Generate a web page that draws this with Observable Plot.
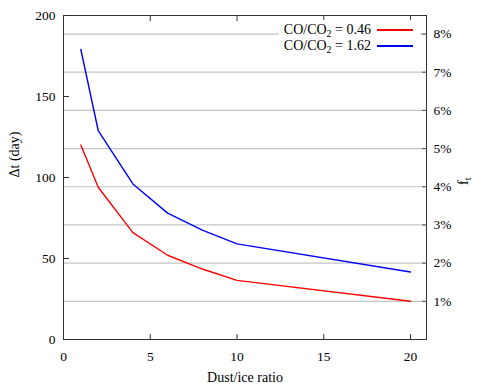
<!DOCTYPE html>
<html><head><meta charset="utf-8">
<script src="https://cdn.jsdelivr.net/npm/d3@7"></script>
<script src="https://cdn.jsdelivr.net/npm/@observablehq/plot@0.6"></script>
<style>
body{margin:0;background:#fff;}
#wrap{position:relative;width:491px;height:392px;font-family:"Liberation Serif",serif;color:#000;}
#wrap svg{position:absolute;left:0;top:0;}
#wrap svg text{font-family:"Liberation Serif",serif;}
.lgbox{position:absolute;left:279px;top:20px;width:141px;height:34px;background:#fff;}
.lgtext{position:absolute;right:120px;font-size:14px;height:16px;line-height:16px;white-space:nowrap;}
.lgtext sub{font-size:10px;vertical-align:baseline;position:relative;top:3px;line-height:0;}
.lgline{position:absolute;left:377px;width:36px;height:1.5px;}
</style></head><body><div id="wrap"></div>
<script>
const dustIce = [1, 2, 4, 6, 8, 10, 20];
const dtLow = [120, 94, 66, 52, 43.5, 36.5, 23.6];
const dtHigh = [179, 129, 96, 78, 67.5, 59, 41.7];
const seriesLabels = ["0.46", "1.62"];
const seriesColors = ["#ff0000", "#0000ff"];
const xTicks = [0, 5, 10, 15, 20];
const yTicks = [0, 50, 100, 150, 200];
const ftTicks = [1, 2, 3, 4, 5, 6, 7, 8];
const daysPerPercent = 23.57;

const rows = dustIce.map((x, i) => ({x, low: dtLow[i], high: dtHigh[i]}));
const serif = "Liberation Serif";

const svg = Plot.plot({
  width: 491, height: 392,
  marginLeft: 63, marginRight: 65, marginTop: 15, marginBottom: 53,
  style: {fontFamily: serif, fontSize: "13.5px", color: "#000", background: "#fff"},
  x: {domain: [0, 20.92]},
  y: {domain: [0, 200]},
  marks: [
    Plot.ruleY(ftTicks, {y: f => f * daysPerPercent, stroke: "#c4c4c4", strokeWidth: 1.2}),
    Plot.line(rows, {x: "x", y: "low", stroke: seriesColors[0], strokeWidth: 1.4}),
    Plot.line(rows, {x: "x", y: "high", stroke: seriesColors[1], strokeWidth: 1.4}),
    Plot.frame({stroke: "#333", strokeWidth: 1}),
    Plot.axisX({anchor: "bottom", ticks: xTicks, tickSize: 0, tickPadding: 12, fontFamily: serif, label: null}),
    Plot.axisX({anchor: "bottom", ticks: xTicks, tickSize: 5, dy: -5, fill: "none", stroke: "#333", label: null}),
    Plot.axisX({anchor: "top", ticks: xTicks, tickSize: 5, dy: 5, fill: "none", stroke: "#333", label: null}),
    Plot.axisY({anchor: "left", ticks: yTicks, tickSize: 0, tickPadding: 8, fontFamily: serif, label: null}),
    Plot.axisY({anchor: "left", ticks: yTicks, tickSize: 6, dx: 6, fill: "none", stroke: "#333", label: null}),
    Plot.axisY({anchor: "right", ticks: ftTicks.map(f => f * daysPerPercent), tickFormat: d => Math.round(d / daysPerPercent) + "%", tickSize: 0, tickPadding: 7, fontFamily: serif, label: null}),
    Plot.axisY({anchor: "right", ticks: ftTicks.map(f => f * daysPerPercent), tickSize: 5, dx: -5, fill: "none", stroke: "#555", label: null}),
    Plot.text(["Δt (day)"], {text: d => d, frameAnchor: "left", rotate: -90, dx: -49, fontSize: 14, fontFamily: serif}),
    Plot.text(["Dust/ice ratio"], {text: d => d, frameAnchor: "bottom", dy: 42, fontSize: 14, fontFamily: serif}),
    Plot.text(["ft"], {text: d => d, frameAnchor: "right", rotate: -90, dx: 37, fontSize: 14, fontFamily: serif})
  ]
});

d3.select(svg).selectAll("text").filter(function() { return this.textContent === "ft"; })
  .html('f<tspan dy="3" font-size="10">t</tspan>');

const wrap = document.getElementById("wrap");
wrap.appendChild(svg);
const box = document.createElement("div");
box.className = "lgbox";
wrap.appendChild(box);
const rowCenters = [30, 46];
seriesLabels.forEach((lab, i) => {
  const t = document.createElement("div");
  t.className = "lgtext";
  t.style.top = (rowCenters[i] - 8) + "px";
  t.innerHTML = "CO/CO<sub>2</sub> = " + lab;
  wrap.appendChild(t);
  const l = document.createElement("div");
  l.className = "lgline";
  l.style.top = (rowCenters[i] - 1) + "px";
  l.style.background = seriesColors[i];
  wrap.appendChild(l);
});
</script></body></html>
